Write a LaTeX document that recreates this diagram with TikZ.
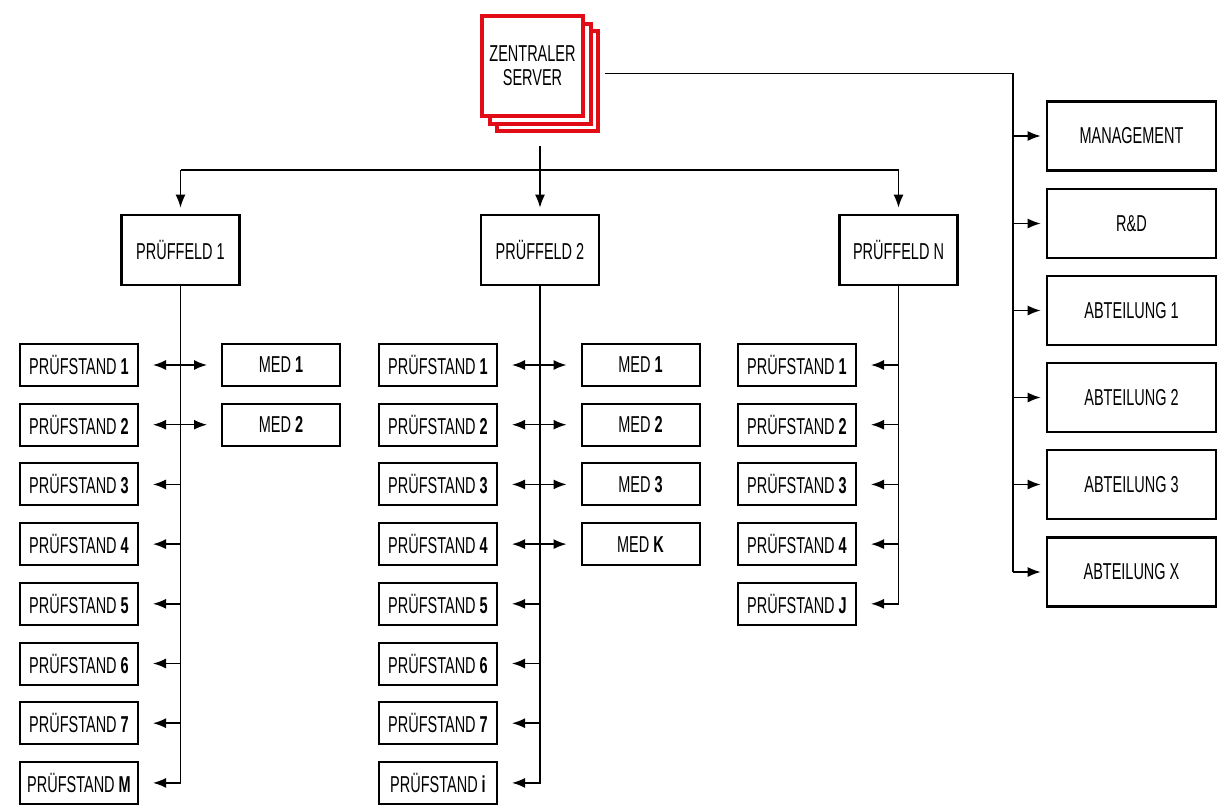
\documentclass[tikz,border=0pt]{standalone}
\usepackage{fontspec}
\setmainfont{Liberation Sans}[FakeStretch=0.63]
\usetikzlibrary{arrows.meta,positioning}
\definecolor{serverred}{RGB}{226,12,22}

\tikzset{
  bigbox/.style={draw, line width=2.6pt, minimum width=118pt, minimum height=70pt, font=\fontsize{23}{24}\selectfont, align=center},
  deptbox/.style={bigbox, minimum width=169pt, minimum height=69pt},
  standbox/.style={draw, line width=2pt, minimum width=118pt, minimum height=42pt, font=\fontsize{23}{24}\selectfont},
  serverbox/.style={draw=serverred, line width=4pt, fill=white, minimum width=101pt, minimum height=100pt, font=\fontsize{23}{24}\selectfont, align=center},
  conn/.style={line width=1.5pt},
  arr/.style={conn, -{Latex[length=13pt,width=10pt]}},
  dblarr/.style={conn, {Latex[length=13pt,width=10pt]}-{Latex[length=13pt,width=10pt]}}
}

\begin{document}
\begin{tikzpicture}[x=1pt, y=-1pt]
  \useasboundingbox (0,0) rectangle (1224,811);

  % Central server (stacked)
  \node[serverbox] (srv3) at (547.5,81) {};
  \node[serverbox] (srv2) at (540,73.5) {};
  \node[serverbox] (srv) at (532.5,66) {ZENTRALER\\SERVER};

  % Departments
  \node[deptbox] (mgmt) at (1131.5,136) {MANAGEMENT};
  \node[deptbox] (rd) at (1131.5,223.5) {R\&D};
  \node[deptbox] (abt1) at (1131.5,310.5) {ABTEILUNG 1};
  \node[deptbox] (abt2) at (1131.5,397.5) {ABTEILUNG 2};
  \node[deptbox] (abt3) at (1131.5,484.5) {ABTEILUNG 3};
  \node[deptbox] (abtx) at (1131.5,572) {ABTEILUNG X};

  \coordinate (rbus) at (1013,73.5);
  \draw[conn] ([xshift=12pt]srv2.east) -- (rbus) -- (rbus |- abtx.west);
  \foreach \d in {mgmt,rd,abt1,abt2,abt3,abtx}
    \draw[arr, shorten >=5pt] (rbus |- \d.west) -- (\d.west);

  % Test fields
  \node[bigbox] (pf1) at (180.5,250) {PRÜFFELD 1};
  \node[bigbox] (pf2) at (540,250) {PRÜFFELD 2};
  \node[bigbox] (pfn) at (898.5,250) {PRÜFFELD N};

  \coordinate (sdown) at (540,146);
  \coordinate (hub) at (540,170);
  \draw[conn] (hub -| pf1) -- (hub -| pfn);
  \draw[arr, shorten >=6pt] (sdown) -- (pf2.north);
  \draw[arr, shorten >=6pt] (hub -| pf1) -- (pf1.north);
  \draw[arr, shorten >=6pt] (hub -| pfn) -- (pfn.north);

  % Test stands, field 1
  \foreach \i/\lab in {1/1,2/2,3/3,4/4,5/5,6/6,7/7,8/M}
    \node[standbox] (s1\i) at (79,{365+59.7*(\i-1)}) {PRÜFSTAND \textbf{\lab}};
  \node[standbox] (m11) at (281,365) {MED \textbf{1}};
  \node[standbox] (m12) at (281,424.7) {MED \textbf{2}};

  \draw[arr, shorten >=14pt] (pf1.south) |- (s18.east);
  \foreach \i in {3,...,7}
    \draw[arr, shorten >=14pt] (pf1.south |- s1\i.east) -- (s1\i.east);
  \foreach \i in {1,2}
    \draw[dblarr, shorten <=14pt, shorten >=14pt] (s1\i.east) -- (m1\i.west);

  % Test stands, field 2
  \foreach \i/\lab in {1/1,2/2,3/3,4/4,5/5,6/6,7/7,8/i}
    \node[standbox] (s2\i) at (438,{365+59.7*(\i-1)}) {PRÜFSTAND \textbf{\lab}};
  \foreach \i/\lab in {1/1,2/2,3/3,4/K}
    \node[standbox] (m2\i) at (640.5,{365+59.7*(\i-1)}) {MED \textbf{\lab}};

  \draw[arr, shorten >=14pt] (pf2.south) |- (s28.east);
  \foreach \i in {5,6,7}
    \draw[arr, shorten >=14pt] (pf2.south |- s2\i.east) -- (s2\i.east);
  \foreach \i in {1,...,4}
    \draw[dblarr, shorten <=14pt, shorten >=14pt] (s2\i.east) -- (m2\i.west);

  % Test stands, field N
  \foreach \i/\lab in {1/1,2/2,3/3,4/4,5/J}
    \node[standbox] (s3\i) at (797,{365+59.7*(\i-1)}) {PRÜFSTAND \textbf{\lab}};

  \draw[arr, shorten >=14pt] (pfn.south) |- (s35.east);
  \foreach \i in {1,...,4}
    \draw[arr, shorten >=14pt] (pfn.south |- s3\i.east) -- (s3\i.east);

\end{tikzpicture}
\end{document}
